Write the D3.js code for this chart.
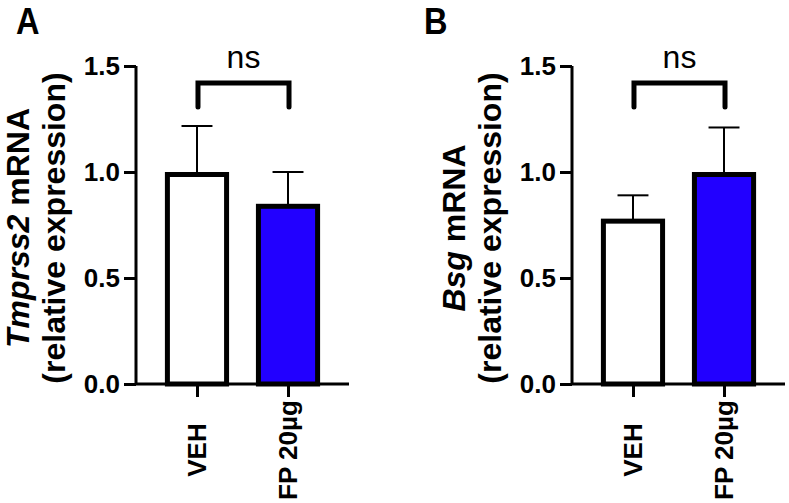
<!DOCTYPE html>
<html>
<head>
<meta charset="utf-8">
<script src="https://cdn.jsdelivr.net/npm/d3@7/dist/d3.min.js"></script>
<style>
  html, body { margin: 0; padding: 0; background: #fff; }
  svg { display: block; }
  text { font-family: "Liberation Sans", Arial, Helvetica, sans-serif; fill: #000; }
</style>
</head>
<body>
<svg id="chart" width="789" height="503"></svg>
<script>
const categories = ["VEH", "FP 20µg"];
const yTicks = [0, 0.5, 1.0, 1.5];
const tmprss2Mean = [1.0, 0.85];
const tmprss2Err = [0.217, 0.15];
const bsgMean = [0.78, 1.0];
const bsgErr = [0.11, 0.21];
const panelLetters = ["A", "B"];
const geneNames = ["Tmprss2", "Bsg"];
const sigLabels = ["ns", "ns"];
const barColors = ["#ffffff", "#2200ff"];

const svg = d3.select("#chart");

const y = d3.scaleLinear().domain([0, 1.5]).range([384, 66]);

function drawPanel(ox, letter, gene, means, errs, sig, letterX) {
  const g = svg.append("g").attr("transform", `translate(${ox},0)`);
  const x = d3.scalePoint().domain(categories).range([136, 349]).padding(0.67);
  const step = x.step();
  const bw = step * 0.65;
  const capW = step * 0.34;
  const sw = 5;

  // panel letter
  g.append("text").attr("transform", `translate(${letterX},34) scale(0.88,1)`)
    .attr("font-size", 37).attr("font-weight", "bold").text(letter);

  // error bars
  categories.forEach((c, i) => {
    const cx = x(c);
    const top = y(means[i] + errs[i]);
    g.append("line").attr("x1", cx).attr("x2", cx)
      .attr("y1", y(means[i]) + 2).attr("y2", top)
      .attr("stroke", "#000").attr("stroke-width", 2);
    g.append("line").attr("x1", cx - capW / 2).attr("x2", cx + capW / 2)
      .attr("y1", top).attr("y2", top)
      .attr("stroke", "#000").attr("stroke-width", 2);
  });

  // bars
  categories.forEach((c, i) => {
    const cx = x(c);
    const yt = y(means[i]) + sw / 2;
    g.append("rect")
      .attr("x", cx - bw / 2).attr("y", yt)
      .attr("width", bw).attr("height", y(0) - yt)
      .attr("fill", barColors[i]).attr("stroke", "#000").attr("stroke-width", sw);
  });

  // y axis
  const yAxis = d3.axisLeft(y).tickValues(yTicks).tickFormat(d3.format(".1f")).tickSize(12).tickPadding(4);
  const ya = g.append("g").attr("transform", "translate(136,0)").call(yAxis);
  ya.select(".domain").attr("d", `M0,${y(1.5)}V${y(0)}`).attr("stroke-width", 3).attr("stroke", "#000");
  ya.selectAll(".tick line").attr("stroke-width", 3).attr("stroke", "#000");
  ya.selectAll(".tick text").attr("font-size", 26).attr("font-weight", "bold")
    .attr("font-family", '"Liberation Sans", Arial, sans-serif').attr("fill", "#000");

  // x axis
  const xAxis = d3.axisBottom(x).tickSize(13).tickFormat("");
  const xa = g.append("g").attr("transform", `translate(0,${y(0)})`).call(xAxis);
  xa.select(".domain").attr("d", "M136,0H349").attr("stroke-width", 3).attr("stroke", "#000");
  xa.selectAll(".tick line").attr("stroke-width", 3).attr("stroke", "#000");

  // x labels rotated
  categories.forEach((c) => {
    g.append("text")
      .attr("transform", `translate(${x(c)},450) rotate(-90)`)
      .attr("text-anchor", "middle").attr("dy", "0.35em")
      .attr("font-size", 26).attr("font-weight", "bold").text(c);
  });

  // y axis title
  const t1 = g.append("text")
    .attr("transform", "translate(29,228) rotate(-90)")
    .attr("text-anchor", "middle")
    .attr("font-size", 32).attr("font-weight", "bold");
  t1.append("tspan").attr("font-style", "italic").text(gene);
  t1.append("tspan").text(" mRNA");
  g.append("text")
    .attr("transform", "translate(65,228) rotate(-90)")
    .attr("text-anchor", "middle")
    .attr("font-size", 32).attr("font-weight", "bold")
    .text("(relative expression)");

  // significance bracket
  const x1 = x(categories[0]) + 1, x2 = x(categories[1]) + 1;
  g.append("path")
    .attr("d", `M${x1},107V83H${x2}V107`)
    .attr("fill", "none").attr("stroke", "#000").attr("stroke-width", 5)
    .attr("stroke-linecap", "round").attr("stroke-linejoin", "miter");
  g.append("text").attr("x", (x1 + x2) / 2).attr("y", 68)
    .attr("text-anchor", "middle").attr("font-size", 32).text(sig);
}

drawPanel(0, panelLetters[0], geneNames[0], tmprss2Mean, tmprss2Err, sigLabels[0], 16);
drawPanel(436, panelLetters[1], geneNames[1], bsgMean, bsgErr, sigLabels[1], -12);
</script>
</body>
</html>
